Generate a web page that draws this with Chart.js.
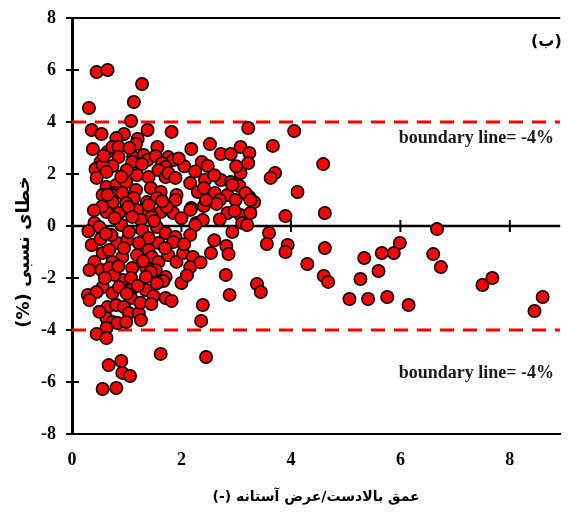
<!DOCTYPE html>
<html><head><meta charset="utf-8">
<script src="https://cdn.jsdelivr.net/npm/chart.js@4.4.1/dist/chart.umd.min.js"></script>
<style>html,body{margin:0;padding:0;background:#fff}</style>
</head><body>
<canvas id="c" width="568" height="512"></canvas>
<script>
// Data: upstream depth / sill width (x) vs relative error % (y)
const ratioX = [
0.45,0.65,1.28,0.31,1.13,1.08,
0.36,0.54,0.95,1.2,0.81,1.38,1.82,3.22,4.06,
0.38,0.65,0.74,0.85,0.85,1.17,1.12,1.31,1.56,1.76,2.18,2.52,2.72,2.9,3.08,3.24,3.67,1.85,1.38,1.53,
0.52,0.74,1.1,1.28,1.65,1.71,2.37,2.48,3.22,3.08,0.43,0.56,0.63,0.45,1.19,1.4,1.58,1.71,1.76,1.89,2.16,2.43,2.72,2.9,3.71,3.63,4.59,
0.63,0.81,0.99,0.77,1.17,1.44,1.62,0.56,2.3,2.41,3.06,1.91,2.61,2.84,3.24,3.17,2.93,4.12,0.74,0.92,1.13,1.37,1.55,1.89,0.99,0.74,2.7,2.99,3.33,3.26,
0.63,0.86,1.28,1.19,1.4,1.62,1.03,1.26,0.9,0.41,0.5,1.85,2.18,2.41,2.64,2.84,3.08,3.26,2.97,1.73,2.16,2.27,2.39,2.25,1.46,3.11,3.2,3.9,4.62,
1.28,1.55,1.71,1.89,2.16,2.93,3.6,1.58,1.85,1.4,1.22,0.83,1.01,1.4,1.19,0.56,0.92,0.74,0.41,1.46,1.58,1.76,1.91,2.03,2.21,2.54,2.82,2.86,3.56,3.94,3.9,4.62,0.36,0.32,1.04,0.72,0.52,0.68,
0.54,0.68,1.1,1.35,1.53,2.16,0.92,1.08,0.77,1.44,1.71,1.35,0.56,0.29,0.45,0.74,0.86,1.08,1.35,1.49,1.71,1.08,1.67,2.0,1.82,2.81,2.88,2.39,3.38,3.45,
0.32,0.65,0.81,0.95,1.04,1.22,1.26,0.63,0.74,0.63,0.83,0.99,0.45,0.63,2.36,
1.62,2.45,0.67,0.9,0.92,1.06,0.56,0.81,
4.3,4.6,4.68,5.07,5.41,5.76,6.15,5.27,5.6,5.34,5.66,5.88,5.99,6.67,6.6,6.74,7.5,7.68,8.45,8.6,
0.55,0.78,1.1,1.5,1.65,2.0,0.62,0.95,1.3,1.7,2.05,0.85,1.2,1.55,0.6,1.0,1.25,0.5,1.45,2.1,2.35,2.6,2.45,2.05,2.25,1.0,0.65,0.4,0.3,2.7,3.0,2.6,1.95,0.9,1.05,0.58
];
const errorY = [
5.92,6.0,5.46,4.54,4.77,4.04,
3.69,3.54,3.54,3.35,3.38,3.69,3.62,3.77,3.65,
2.96,2.85,3.04,3.04,2.65,3.15,2.65,2.73,3.04,2.65,2.96,3.15,2.77,2.77,3.04,2.81,3.08,2.54,2.54,2.69,
2.46,2.31,2.46,2.38,2.42,2.27,2.46,2.31,2.42,2.04,2.19,2.35,2.08,1.85,1.96,1.88,2.15,1.88,2.04,1.85,1.65,1.77,1.77,1.69,2.04,1.85,2.38,
1.5,1.58,1.69,1.27,1.38,1.46,1.31,1.19,1.31,1.46,1.54,1.19,1.27,1.19,1.12,1.27,1.58,1.31,1.19,1.27,1.08,0.92,1.08,1.0,0.88,0.92,1.0,1.0,0.92,1.0,
0.54,0.5,0.5,0.62,0.81,0.54,0.73,0.23,0.04,0.12,-0.04,0.5,0.69,0.77,0.85,0.5,0.42,0.5,0.58,0.73,0.62,0.12,0.23,0.04,0.35,0.12,0.04,0.38,0.5,
-0.15,-0.04,-0.27,-0.42,-0.35,-0.23,-0.27,-0.65,-0.62,-0.46,-0.65,-0.65,-0.54,-0.92,-1.12,-1.04,-1.19,-1.38,-1.38,-1.19,-1.38,-1.12,-1.38,-1.04,-1.19,-1.04,-0.77,-1.08,-0.69,-0.73,-1.0,-0.85,-0.73,-1.69,-0.23,-0.35,-0.5,-0.92,
-1.69,-1.62,-1.62,-1.58,-1.69,-1.58,-2.08,-2.0,-1.88,-1.77,-1.96,-1.96,-2.35,-2.65,-2.54,-2.58,-2.35,-2.46,-2.46,-2.69,-2.77,-2.77,-2.12,-2.19,-2.88,-1.88,-2.65,-3.04,-2.23,-2.54,
-2.85,-3.12,-3.04,-3.12,-3.35,-3.35,-3.62,-3.54,-3.69,-3.92,-3.73,-3.69,-4.15,-4.31,-3.65,
-4.92,-5.04,-5.35,-5.19,-5.65,-5.77,-6.27,-6.23,
-1.46,-1.92,-2.15,-2.81,-2.81,-2.73,-3.04,-2.04,-1.73,-1.23,-1.04,-1.04,-0.65,-0.12,-1.08,-1.58,-2.27,-2.0,-3.27,-2.73,
0.75,0.3,0.35,0.2,0.95,0.3,-0.3,-0.85,-1.35,-0.85,-0.7,-1.55,-2.3,-2.2,-2.0,-2.6,-2.95,-3.3,-3.0,-1.9,-1.4,-0.55,1.0,2.3,2.1,2.15,1.2,0.6,-0.2,0.25,2.3,1.95,2.6,1.9,3.0,2.7
];
const boundaryValues = [4, -4];
const xTickValues = [0, 2, 4, 6, 8];
const yTickValues = [-8, -6, -4, -2, 0, 2, 4, 6, 8];
const xRange = [0, 8.92];
const yRange = [-8, 8];
const xTitle = 'عمق بالادست/عرض آستانه (-)';
const yTitle = 'خطای نسبی (%)';
const boundaryLabel = 'boundary line= -4%';
const panelLabel = '(ب)';

const points = ratioX.map((x, i) => ({ x: x, y: errorY[i] }));
const boundarySets = boundaryValues.map(v => ({
  type: 'line',
  data: [{ x: xRange[0], y: v }, { x: xRange[1], y: v }],
  borderColor: '#ff0000', borderWidth: 3, borderDash: [14, 9],
  pointRadius: 0, fill: false, order: 2
}));

const decor = {
  id: 'decor',
  beforeDatasetsDraw(chart) {
    const { ctx, chartArea: a, scales: { x, y } } = chart;
    ctx.save();
    ctx.strokeStyle = '#000';
    ctx.lineWidth = 2;
    ctx.beginPath(); ctx.moveTo(a.left, a.top); ctx.lineTo(a.right, a.top); ctx.stroke();
    const y0 = y.getPixelForValue(0);
    ctx.lineWidth = 2.5;
    ctx.beginPath(); ctx.moveTo(a.left, y0); ctx.lineTo(a.right, y0); ctx.stroke();
    ctx.lineWidth = 2;
    xTickValues.forEach(v => {
      if (v === 0) return;
      const px = x.getPixelForValue(v);
      ctx.beginPath(); ctx.moveTo(px, y0 - 6); ctx.lineTo(px, y0 + 6); ctx.stroke();
    });
    yTickValues.forEach(v => {
      const py = y.getPixelForValue(v);
      ctx.beginPath(); ctx.moveTo(a.left - 6, py); ctx.lineTo(a.left + 7, py); ctx.stroke();
    });
    ctx.restore();
  },
  afterDraw(chart) {
    const { ctx, scales: { y } } = chart;
    ctx.save();
    ctx.fillStyle = '#1a1a1a';
    ctx.font = 'bold 18px "Liberation Serif"';
    ctx.textAlign = 'right';
    ctx.textBaseline = 'middle';
    ctx.fillText(boundaryLabel, 554, y.getPixelForValue(boundaryValues[0]) + 16);
    ctx.fillText(boundaryLabel, 554, y.getPixelForValue(boundaryValues[1]) + 43);
    ctx.fillStyle = '#000';
    ctx.font = 'bold 16px "DejaVu Sans"';
    ctx.direction = 'rtl';
    ctx.textAlign = 'left';
    ctx.fillText(panelLabel, 531, 42);
    ctx.translate(24, 252);
    ctx.rotate(-Math.PI / 2);
    ctx.textAlign = 'center';
    ctx.font = 'bold 18px "DejaVu Sans"';
    ctx.fillText(yTitle, 0, 0);
    ctx.restore();
  }
};

new Chart(document.getElementById('c'), {
  data: {
    datasets: [
      {
        type: 'scatter', data: points,
        backgroundColor: '#ff0000', borderColor: '#000', borderWidth: 1.6,
        pointRadius: 6.2, pointHoverRadius: 6.2, order: 1
      },
      ...boundarySets
    ]
  },
  options: {
    responsive: false, animation: false, devicePixelRatio: 1,
    layout: { padding: { top: 18, right: 0, left: 0, bottom: 0 } },
    plugins: { legend: { display: false }, tooltip: { enabled: false } },
    scales: {
      x: {
        type: 'linear', min: xRange[0], max: xRange[1],
        afterBuildTicks: s => { s.ticks = xTickValues.map(v => ({ value: v })); },
        afterFit: s => { s.height = 78; s.paddingLeft = 0; s.paddingRight = 0; },
        grid: { display: false, drawTicks: false, tickLength: 0 },
        border: { display: true, color: '#000', width: 2 },
        ticks: { color: '#000', padding: 16, maxRotation: 0, autoSkip: false,
          font: { family: 'Liberation Serif', size: 18, weight: 'bold' } },
        title: { display: true, text: '\u202B' + xTitle + '\u202C', color: '#000',
          font: { family: 'DejaVu Sans', size: 14, weight: 'bold' }, padding: { top: 0, bottom: 6 } }
      },
      y: {
        type: 'linear', min: yRange[0], max: yRange[1],
        afterBuildTicks: s => { s.ticks = yTickValues.map(v => ({ value: v })); },
        afterFit: s => { s.width = 72; s.paddingTop = 0; s.paddingBottom = 0; },
        grid: { display: false, drawTicks: false, tickLength: 0 },
        border: { display: true, color: '#000', width: 3 },
        ticks: { color: '#000', padding: 16,
          font: { family: 'Liberation Serif', size: 18, weight: 'bold' } }
      }
    }
  },
  plugins: [decor]
});
</script>
</body></html>
